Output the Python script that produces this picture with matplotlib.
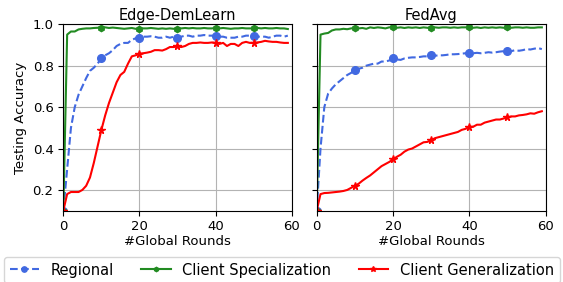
import matplotlib

matplotlib.use("Agg")

import matplotlib.pyplot as plt
import numpy as np

rounds = np.arange(60)

edge_regional = [
    0.10, 0.30, 0.50, 0.60, 0.66, 0.70, 0.74, 0.775, 0.79, 0.81,
    0.835, 0.85, 0.86, 0.875, 0.895, 0.905, 0.91, 0.91, 0.925, 0.932,
    0.935, 0.94, 0.94, 0.942, 0.94, 0.935, 0.935, 0.94, 0.935, 0.94,
    0.935, 0.94, 0.945, 0.945, 0.94, 0.945, 0.945, 0.948, 0.945, 0.945,
    0.945, 0.94, 0.94, 0.935, 0.935, 0.935, 0.94, 0.94, 0.945, 0.945,
    0.945, 0.94, 0.94, 0.94, 0.935, 0.94, 0.945, 0.945, 0.94, 0.945,
]
edge_spec = [
    0.10, 0.95, 0.965, 0.965, 0.975, 0.978, 0.98, 0.98, 0.982, 0.983,
    0.983, 0.985, 0.982, 0.984, 0.982, 0.98, 0.978, 0.98, 0.982, 0.978,
    0.978, 0.98, 0.98, 0.982, 0.98, 0.978, 0.98, 0.978, 0.98, 0.978,
    0.978, 0.98, 0.982, 0.98, 0.982, 0.98, 0.98, 0.982, 0.98, 0.98,
    0.982, 0.98, 0.982, 0.98, 0.978, 0.98, 0.98, 0.982, 0.98, 0.98,
    0.98, 0.982, 0.98, 0.982, 0.98, 0.98, 0.982, 0.98, 0.98, 0.977,
]
edge_gen = [
    0.10, 0.18, 0.19, 0.19, 0.19, 0.20, 0.22, 0.26, 0.33, 0.41,
    0.49, 0.56, 0.62, 0.67, 0.72, 0.755, 0.77, 0.81, 0.845, 0.85,
    0.857, 0.86, 0.863, 0.867, 0.875, 0.875, 0.873, 0.88, 0.89, 0.89,
    0.893, 0.89, 0.895, 0.905, 0.91, 0.91, 0.912, 0.91, 0.91, 0.912,
    0.91, 0.905, 0.91, 0.895, 0.905, 0.905, 0.895, 0.91, 0.915, 0.91,
    0.91, 0.912, 0.915, 0.92, 0.917, 0.915, 0.915, 0.912, 0.91, 0.91,
]

fed_regional = [
    0.10, 0.40, 0.60, 0.665, 0.69, 0.71, 0.725, 0.74, 0.755, 0.765,
    0.78, 0.785, 0.79, 0.80, 0.805, 0.81, 0.81, 0.82, 0.82, 0.825,
    0.835, 0.83, 0.828, 0.835, 0.838, 0.84, 0.84, 0.842, 0.845, 0.845,
    0.85, 0.848, 0.85, 0.85, 0.852, 0.855, 0.855, 0.856, 0.858, 0.86,
    0.862, 0.86, 0.862, 0.86, 0.862, 0.865, 0.863, 0.865, 0.868, 0.87,
    0.872, 0.87, 0.875, 0.872, 0.875, 0.88, 0.878, 0.882, 0.885, 0.88,
]
fed_spec = [
    0.10, 0.95, 0.955, 0.958, 0.97, 0.975, 0.975, 0.978, 0.976, 0.98,
    0.982, 0.98, 0.982, 0.978, 0.985, 0.982, 0.985, 0.983, 0.98, 0.985,
    0.985, 0.983, 0.985, 0.982, 0.985, 0.983, 0.985, 0.982, 0.985, 0.983,
    0.98, 0.985, 0.983, 0.985, 0.985, 0.983, 0.985, 0.983, 0.985, 0.985,
    0.985, 0.983, 0.985, 0.982, 0.985, 0.983, 0.985, 0.983, 0.985, 0.983,
    0.985, 0.983, 0.985, 0.985, 0.983, 0.985, 0.983, 0.983, 0.985, 0.985,
]
fed_gen = [
    0.10, 0.18, 0.185, 0.186, 0.188, 0.19, 0.192, 0.195, 0.20, 0.21,
    0.22, 0.23, 0.245, 0.258, 0.27, 0.285, 0.30, 0.315, 0.325, 0.335,
    0.347, 0.36, 0.37, 0.385, 0.395, 0.40, 0.41, 0.42, 0.43, 0.432,
    0.44, 0.45, 0.455, 0.46, 0.465, 0.47, 0.475, 0.48, 0.49, 0.495,
    0.505, 0.505, 0.515, 0.515, 0.525, 0.53, 0.535, 0.54, 0.54, 0.545,
    0.55, 0.555, 0.555, 0.56, 0.562, 0.565, 0.57, 0.568, 0.575, 0.58,
]

panels = [
    ("Edge-DemLearn", edge_regional, edge_spec, edge_gen),
    ("FedAvg", fed_regional, fed_spec, fed_gen),
]

fig = plt.figure(figsize=(5.63, 2.82), dpi=100)
ax_pos = [(0.1125, 0.253, 0.4055, 0.661), (0.5625, 0.253, 0.4067, 0.661)]

for i, (title, reg, spec, gen) in enumerate(panels):
    ax = fig.add_axes(ax_pos[i])
    ax.plot(rounds, reg, color="royalblue", linestyle="--", linewidth=1.5,
            marker="o", markersize=5.5, markevery=10, label="Regional")
    ax.plot(rounds, spec, color="forestgreen", linewidth=1.5,
            marker="h", markersize=4.5, markevery=10, label="Client Specialization")
    ax.plot(rounds, gen, color="red", linewidth=1.5,
            marker="*", markersize=5.5, markevery=10, label="Client Generalization")
    ax.set_xlim(0, 60)
    ax.set_ylim(0.1, 1.0)
    ax.set_xticks([0, 20, 40, 60])
    ax.set_yticks([0.2, 0.4, 0.6, 0.8, 1.0])
    ax.tick_params(labelsize=9.5)
    ax.grid(True, color="0.7", linewidth=0.8)
    ax.set_title(title, fontsize=10.5, pad=3)
    ax.set_xlabel("#Global Rounds", fontsize=9.5, labelpad=1)
    if i == 0:
        ax.set_ylabel("Testing Accuracy", fontsize=9.5)
        handles, labels = ax.get_legend_handles_labels()
    else:
        ax.set_yticklabels([])

fig.legend(handles, labels, loc="lower left", ncol=3,
           bbox_to_anchor=(0.004, -0.01), fontsize=10.5, handlelength=2.0,
           handletextpad=0.8, columnspacing=1.9, markerscale=0.7,
           borderaxespad=0.1, frameon=True)

fig.savefig("out.png", dpi=100)
